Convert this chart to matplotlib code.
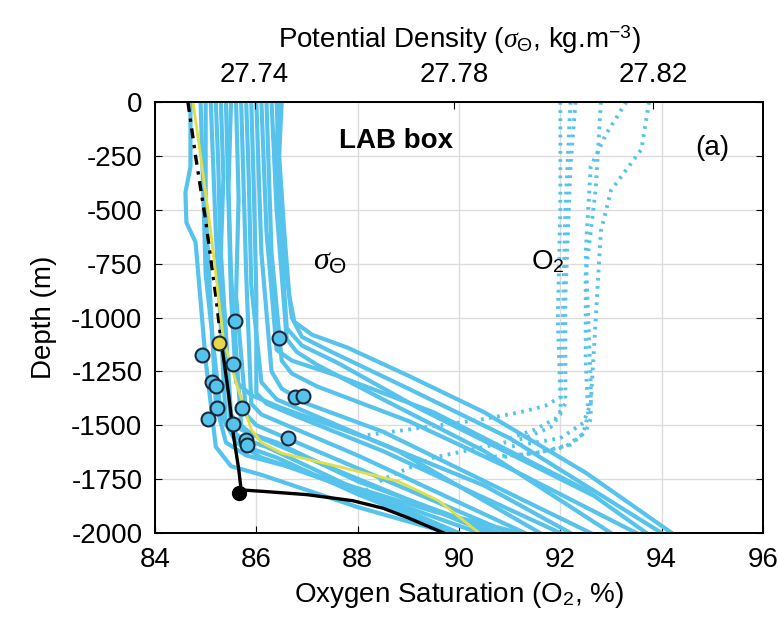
import matplotlib
matplotlib.use('Agg')
import matplotlib.pyplot as plt

plt.rcParams['font.family'] = ['Liberation Sans', 'DejaVu Sans']
plt.rcParams['axes.unicode_minus'] = False
plt.rcParams['mathtext.fontset'] = 'custom'
plt.rcParams['mathtext.rm'] = 'Liberation Sans'
plt.rcParams['mathtext.it'] = 'Liberation Serif:italic'
plt.rcParams['mathtext.bf'] = 'Liberation Sans:bold'

# ---- sigma-theta profiles (plotted in O2-axis units)
sig_A = ([86.5, 86.45, 86.55, 86.65, 86.75, 87.1, 87.8, 89.0, 90.5, 92.5, 94.2],
         [0, -250, -600, -900, -1020, -1080, -1140, -1270, -1440, -1720, -2000])
sig_B = ([86.4, 86.45, 86.5, 86.7, 86.9, 87.4, 89.0, 91.0, 94.0],
         [0, -300, -600, -1000, -1090, -1150, -1330, -1560, -2000])
sig_C = ([86.2, 86.25, 86.3, 86.5, 86.7, 87.2, 89.0, 91.0, 93.5],
         [0, -350, -700, -1200, -1260, -1320, -1480, -1700, -2000])
sig_D = ([86.0, 86.05, 86.1, 86.3, 86.5, 87.0, 88.5, 92.6],
         [0, -350, -700, -1250, -1330, -1400, -1530, -2000])
sig_E = ([85.9, 85.95, 86.0, 86.0, 86.2, 86.7, 88.5, 92.0],
         [0, -400, -900, -1350, -1400, -1450, -1620, -2000])
sig_F = ([85.7, 85.75, 85.8, 85.9, 86.1, 86.6, 88.0, 91.3],
         [0, -400, -800, -1400, -1450, -1500, -1640, -2000])
sig_G = ([85.6, 85.65, 85.6, 85.8, 86.0, 86.5, 88.0, 91.0],
         [0, -450, -900, -1450, -1500, -1550, -1700, -2000])
sig_H = ([85.5, 85.45, 85.5, 85.7, 85.9, 86.4, 88.0, 90.8],
         [0, -400, -800, -1500, -1540, -1580, -1760, -2000])
sig_I = ([85.3, 85.35, 85.3, 85.5, 85.7, 86.2, 87.5, 90.6],
         [0, -350, -700, -1450, -1520, -1570, -1700, -2000])
sig_J = ([85.1, 85.15, 85.2, 85.4, 85.7, 86.2, 88.0, 90.4],
         [0, -300, -600, -1500, -1560, -1600, -1800, -2000])
sig_K = ([85.0, 85.0, 85.2, 85.4, 85.8, 86.6, 88.5, 90.0],
         [0, -500, -1400, -1580, -1640, -1690, -1850, -2000])
sig_L = ([84.7, 84.7, 84.6, 84.62, 84.8, 85.0, 85.2, 85.5, 86.1, 88.0, 89.8],
         [0, -300, -420, -560, -650, -1200, -1600, -1690, -1730, -1880, -2000])
sig_M = ([84.9, 84.95, 85.0, 85.3, 85.6, 86.1, 87.0, 89.5, 91.2],
         [0, -400, -800, -1450, -1580, -1650, -1720, -1900, -2000])
sig_N = ([86.1, 86.15, 86.2, 86.4, 86.7, 87.6, 89.5, 92.5, 93.7],
         [0, -300, -600, -1150, -1200, -1270, -1440, -1800, -2000])
sig_O = ([85.4, 85.45, 85.5, 85.6, 85.9, 86.5, 88.2, 90.5, 92.2],
         [0, -450, -900, -1300, -1360, -1420, -1560, -1780, -2000])
sig_P = ([86.3, 86.35, 86.4, 86.6, 86.8, 87.2, 88.5, 90.5, 93.0],
         [0, -250, -500, -1100, -1160, -1220, -1380, -1620, -2000])
sig_Q = ([85.2, 85.25, 85.3, 85.5, 85.8, 86.4, 88.0, 89.9],
         [0, -300, -800, -1520, -1600, -1650, -1820, -2000])
sig_R = ([85.8, 85.85, 85.9, 86.1, 86.4, 87.0, 88.8, 91.6],
         [0, -350, -850, -1300, -1380, -1440, -1620, -2000])
sig_S = ([86.45, 86.4, 86.5, 86.6, 86.9, 87.6, 89.2, 92.6],
         [0, -200, -700, -1050, -1130, -1210, -1420, -1820])

# ---- O2 saturation profiles (dotted)
o2_A = ([92.0, 92.0, 91.95, 92.0, 91.7, 91.2, 90.4, 89.0, 88.2],
        [0, -500, -1000, -1370, -1410, -1440, -1475, -1520, -1545])
o2_B = ([92.2, 92.1, 92.05, 92.0, 91.8, 91.3, 90.5, 89.5, 88.5, 88.0],
        [0, -500, -1000, -1450, -1510, -1560, -1600, -1650, -1750, -1830])
o2_C = ([92.8, 92.7, 92.5, 92.5, 92.55, 92.45, 92.1, 91.5, 90.5],
        [0, -400, -800, -1200, -1450, -1540, -1600, -1630, -1650])
o2_D = ([93.3, 92.9, 92.6, 92.5, 92.6, 92.6, 92.5, 92.2, 91.6, 90.8],
        [0, -150, -300, -700, -1300, -1470, -1530, -1590, -1625, -1650])
o2_E = ([93.75, 93.6, 93.0, 92.8, 92.7, 92.6, 92.45, 92.0, 91.0],
        [0, -220, -410, -600, -1000, -1400, -1490, -1560, -1600])
o2_F = ([92.3, 92.2, 92.1, 92.1, 91.9, 91.5, 91.0],
        [0, -300, -900, -1400, -1470, -1520, -1560])

# ---- highlighted profiles
black_o2 = [84.65, 84.8, 85.0, 85.2, 85.3, 85.45, 85.55, 85.65, 85.7, 86.2, 87.0, 87.9, 88.5, 89.0, 89.7]
black_z = [0, -250, -550, -900, -1100, -1350, -1550, -1700, -1800, -1808, -1822, -1850, -1885, -1930, -2000]
yellow_o2 = [84.75, 84.9, 85.1, 85.25, 85.35, 85.6, 85.9, 86.1, 86.5, 87.5, 88.8, 89.6, 90.4]
yellow_z = [0, -250, -600, -900, -1100, -1300, -1520, -1580, -1630, -1685, -1760, -1850, -2000]

# ---- markers (mixed-layer depths)
circ_o2 = [85.58, 86.45, 84.93, 85.53, 85.12, 85.20, 86.76, 86.92, 85.22, 85.72, 85.05, 85.54, 86.62, 85.80, 85.82]
circ_z = [-1016, -1097, -1176, -1217, -1297, -1316, -1368, -1363, -1419, -1419, -1471, -1494, -1560, -1569, -1592]
yellow_pt = (85.26, -1120)
black_pt = (85.66, -1813)

# axes ticks
o2_ticks = [84, 86, 88, 90, 92, 94, 96]
depth_ticks = [0, -250, -500, -750, -1000, -1250, -1500, -1750, -2000]
sigma_ticks = [27.74, 27.78, 27.82]

BLUE = '#56C3EC'
FS = 20

fig = plt.figure(figsize=(7.79, 6.21), dpi=100)
ax = fig.add_axes([155 / 779, 1 - 533 / 621, (763 - 155) / 779, (533 - 102) / 621])

for prof in [o2_A, o2_B, o2_C, o2_D, o2_E, o2_F]:
    ax.plot(prof[0], prof[1], color=BLUE, lw=2.8, ls=(0, (0.7, 1.4)), zorder=2)

for prof in [sig_A, sig_B, sig_C, sig_D, sig_E, sig_F, sig_G, sig_H, sig_I, sig_J,
             sig_K, sig_L, sig_M, sig_N, sig_O, sig_P, sig_Q, sig_R, sig_S]:
    ax.plot(prof[0], prof[1], color=BLUE, lw=3.0, zorder=3, solid_joinstyle='round')

# black profile: upper part partly hidden (dash-dot), lower part solid
ax.plot(black_o2[:5], black_z[:5], color='black', lw=2.4, ls=(0, (3, 2, 1, 2)), zorder=4)
ax.plot(black_o2[4:], black_z[4:], color='black', lw=2.4, zorder=4, solid_joinstyle='round')
ax.plot(yellow_o2, yellow_z, color='#E2DE45', lw=2.0, zorder=5)

ax.plot(circ_o2, circ_z, ls='none', marker='o', ms=10, mfc=BLUE, mec='#1a2a3a', mew=1.5, zorder=6)
ax.plot([yellow_pt[0]], [yellow_pt[1]], ls='none', marker='o', ms=10, mfc='#E6D84A', mec='#1a2a3a', mew=1.5, zorder=7)
ax.plot([black_pt[0]], [black_pt[1]], ls='none', marker='o', ms=10, mfc='black', mec='black', zorder=7)

ax.set_xlim(84, 96)
ax.set_ylim(-2000, 0)
ax.set_xticks(o2_ticks)
ax.set_yticks(depth_ticks)
ax.grid(True, color='#dcdcdc', lw=1.0, zorder=0)
ax.set_axisbelow(True)
ax.tick_params(direction='in', labelsize=FS, length=5, right=True, top=False)
ax.tick_params(axis='x', pad=10)
ax.tick_params(axis='y', pad=9)
ax.set_xlabel('Oxygen Saturation (O$_2$, %)', fontsize=FS, labelpad=5)
ax.set_ylabel('Depth (m)', fontsize=FS, labelpad=10)
for s in ax.spines.values():
    s.set_linewidth(1.3)

ax.text(88.75, -183, 'LAB box', fontsize=FS, fontweight='bold', ha='center', va='center')
ax.text(95.0, -215, '(a)', fontsize=FS, ha='center', va='center')
ax.text(87.45, -740, r'$\sigma_{\Theta}$', fontsize=23, ha='center', va='center')
ax.text(91.75, -740, 'O$_2$', fontsize=FS, ha='center', va='center')

ax2 = ax.twiny()
ax2.set_xlim(27.72, 27.842)
ax2.set_xticks(sigma_ticks)
ax2.set_xticklabels(['27.74', '27.78', '27.82'])
ax2.tick_params(direction='in', labelsize=FS, length=5, pad=10)
ax2.set_xlabel(r'Potential Density ($\sigma_{\Theta}$, kg.m$^{-3}$)', fontsize=FS, labelpad=10)
for s in ax2.spines.values():
    s.set_linewidth(1.3)

fig.savefig('out.png', dpi=100)
